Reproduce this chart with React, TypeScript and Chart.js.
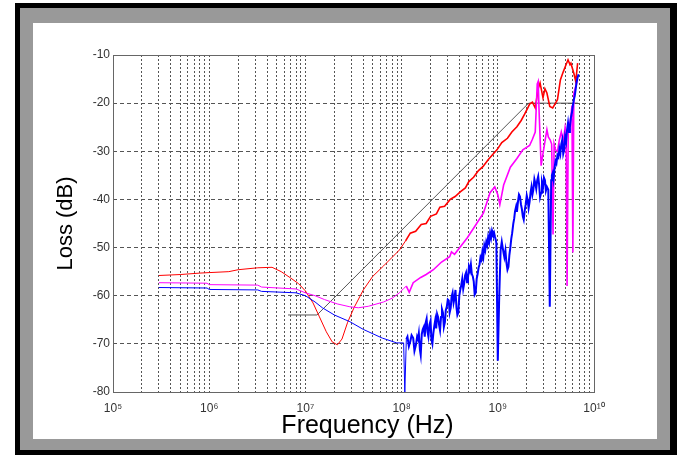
import React, { useEffect, useRef } from 'react';
import { Chart, registerables } from 'chart.js';

Chart.register(...registerables);

// ---- data (frequency in Hz, loss in dB) ----
const redFreq = [
  3e5, 5e5, 8e5, 1e6, 1.6e6, 2e6, 3.2e6, 4.5e6, 5.6e6, 7e6, 8.5e6, 1e7, 1.2e7, 1.4e7, 1.65e7, 1.9e7,
  2.15e7, 2.4e7, 2.75e7, 3.2e7, 4e7, 5e7, 6.5e7, 8e7, 9.5e7, 1.1e8, 1.23e8, 1.4e8, 1.6e8, 1.8e8, 2e8,
  2.3e8, 2.5e8, 2.8e8, 3.2e8, 3.6e8, 4.1e8, 4.6e8, 5e8, 5.6e8, 6.3e8, 7e8, 7.9e8, 8.9e8, 9.8e8, 1.1e9,
  1.26e9, 1.4e9, 1.58e9, 1.75e9, 1.9e9, 2.05e9, 2.14e9, 2.29e9, 2.45e9, 2.63e9, 2.75e9, 2.95e9, 3.09e9,
  3.24e9, 3.47e9, 3.72e9, 3.98e9, 4.17e9, 4.47e9, 4.79e9, 5.01e9, 5.37e9, 5.62e9, 5.75e9, 6.17e9,
  6.46e9, 6.76e9,
];
const redLoss = [
  -55.8, -55.6, -55.3, -55.2, -55.0, -54.6, -54.2, -54.1, -55.0, -56.3, -57.5, -59.0, -61.5, -64.4,
  -67.5, -69.6, -70.2, -69.0, -65.5, -62.5, -58.8, -56.0, -53.8, -52.0, -50.5, -48.6, -47.0, -46.6,
  -45.2, -45.0, -43.5, -43.0, -41.6, -41.4, -40.0, -39.4, -38.4, -37.6, -36.3, -35.4, -34.0, -33.2,
  -31.8, -30.6, -29.7, -28.2, -27.3, -26.0, -24.9, -23.6, -22.3, -21.0, -20.2, -19.8, -21.0, -17.0,
  -15.8, -18.9, -17.0, -17.9, -20.7, -21.0, -20.0, -19.3, -15.2, -13.5, -12.5, -11.0, -12.0, -11.7,
  -13.8, -15.5, -11.7,
];

const magentaFreq = [
  3e5, 9.5e5, 1e6, 3.2e6, 3.5e6, 8e6, 1e7, 1.26e7, 1.58e7, 2.14e7, 2.9e7, 3.55e7, 4.5e7, 6.5e7, 8e7,
  9.5e7, 1.05e8, 1.12e8, 1.2e8, 1.32e8, 1.58e8, 1.8e8, 2.14e8, 2.6e8, 3.16e8, 3.3e8, 3.55e8, 4.2e8,
  4.8e8, 5.6e8, 7.1e8, 8.3e8, 9.3e8, 1e9, 1.05e9, 1.15e9, 1.35e9, 1.58e9, 1.82e9, 2.14e9, 2.29e9,
  2.45e9, 2.57e9, 2.63e9, 2.69e9, 2.82e9, 2.95e9, 3.09e9, 3.24e9, 3.35e9, 3.5e9, 3.63e9, 3.75e9,
  3.85e9, 3.98e9, 4.17e9, 4.37e9, 4.57e9, 4.79e9, 5.01e9, 5.13e9, 5.25e9, 5.4e9, 5.62e9, 5.75e9,
  5.9e9, 6.03e9, 6.17e9, 6.46e9, 6.76e9,
];
const magentaLoss = [
  -57.3, -57.4, -57.7, -57.8, -58.2, -58.6, -59.4, -60.0, -60.8, -61.7, -62.3, -62.5, -62.2, -61.3,
  -60.5, -59.4, -58.5, -58.0, -59.3, -57.3, -56.2, -55.6, -54.6, -53.0, -51.9, -50.9, -51.4, -49.5,
  -48.0, -46.0, -42.8, -38.6, -37.4, -39.0, -41.1, -37.0, -33.3, -31.5, -29.7, -28.8, -27.5, -26.0,
  -16.0, -15.5, -22.0, -33.0, -30.5, -28.0, -25.5, -27.0, -27.6, -28.5, -47.3, -28.5, -29.7, -30.0,
  -27.6, -26.0, -28.0, -25.0, -26.5, -58.0, -25.0, -24.1, -22.9, -20.5, -51.0, -18.0, -16.5, -15.0,
];

const blueFreq = [
  3e5, 9.5e5, 1e6, 3.2e6, 3.5e6, 8e6, 1e7, 1.26e7, 1.5e7, 2e7, 2.9e7, 4e7, 6.3e7, 8.9e7, 1.05e8,
  1.08e8, 1.12e8,
  1.15e8, 1.19e8, 1.23e8, 1.27e8, 1.32e8, 1.36e8, 1.41e8, 1.45e8, 1.48e8, 1.51e8, 1.55e8, 1.58e8,
  1.62e8, 1.66e8, 1.7e8, 1.74e8, 1.78e8, 1.82e8, 1.86e8, 1.9e8, 1.95e8, 2e8, 2.04e8, 2.09e8,
  2.14e8, 2.19e8, 2.24e8, 2.29e8, 2.34e8, 2.4e8, 2.45e8, 2.51e8, 2.57e8, 2.63e8, 2.69e8, 2.75e8,
  2.82e8, 2.88e8, 2.95e8, 3.02e8, 3.09e8, 3.16e8, 3.24e8, 3.31e8, 3.39e8, 3.47e8, 3.55e8, 3.63e8,
  3.72e8, 3.8e8, 3.89e8, 3.98e8, 4.07e8, 4.17e8, 4.27e8, 4.37e8, 4.47e8, 4.57e8, 4.68e8, 4.79e8,
  4.9e8, 5.01e8, 5.13e8, 5.25e8, 5.37e8, 5.5e8, 5.62e8, 5.75e8, 5.89e8, 6.03e8, 6.17e8, 6.31e8,
  6.46e8, 6.61e8, 6.76e8, 6.92e8, 7.08e8, 7.24e8, 7.41e8, 7.59e8, 7.76e8, 7.94e8, 8.13e8, 8.32e8,
  8.51e8, 8.71e8, 8.91e8, 9.12e8, 9.33e8, 9.55e8, 9.66e8, 1e9, 1.035e9, 1.07e9, 1.1e9, 1.12e9,
  1.15e9, 1.17e9, 1.2e9, 1.23e9, 1.26e9, 1.29e9, 1.32e9, 1.35e9, 1.38e9, 1.41e9, 1.45e9, 1.48e9,
  1.51e9, 1.55e9, 1.58e9, 1.62e9, 1.66e9, 1.7e9, 1.74e9, 1.78e9, 1.82e9, 1.86e9, 1.9e9, 1.95e9,
  2e9, 2.04e9, 2.09e9, 2.14e9, 2.19e9, 2.24e9, 2.29e9, 2.34e9, 2.4e9, 2.45e9, 2.51e9, 2.57e9,
  2.63e9, 2.69e9, 2.75e9, 2.82e9, 2.88e9, 2.95e9, 3.02e9, 3.09e9, 3.16e9, 3.24e9, 3.35e9, 3.47e9,
  3.59e9, 3.65e9, 3.72e9, 3.8e9, 3.89e9, 3.98e9, 4.07e9, 4.17e9, 4.27e9, 4.37e9, 4.47e9, 4.57e9,
  4.68e9, 4.79e9, 4.9e9, 5.01e9, 5.13e9, 5.25e9, 5.37e9, 5.5e9, 5.62e9, 5.75e9, 5.89e9, 6.03e9,
  6.17e9, 6.31e9, 6.46e9, 6.61e9, 6.76e9, 6.92e9,
];
const blueLoss = [
  -58.3, -58.4, -58.7, -58.8, -59.1, -59.4, -60.0, -61.3, -62.5, -64.0, -65.4, -67.0, -68.8, -69.8,
  -69.8, -80.0, -69.0,
  -68.5, -70.5, -69.5, -68.2, -68.8, -71.5, -70.2, -68.5, -69.0, -67.8, -71.2, -72.3,
  -68.0, -67.0, -66.5, -68.5, -65.6, -64.8, -67.5, -68.5, -66.0, -65.2, -69.0, -70.0,
  -67.7, -66.2, -65.0, -66.8, -63.8, -64.5, -66.0, -67.2, -64.4, -62.8, -63.5, -66.5,
  -65.5, -63.0, -62.3, -60.8, -61.0, -63.5, -62.5, -60.2, -59.4, -61.5, -60.5, -58.8,
  -62.5, -64.0, -63.5, -60.0, -58.8, -57.8, -56.5, -58.6, -57.5, -55.8, -55.2, -57.2,
  -56.3, -54.0, -54.8, -53.5, -55.5, -56.0, -57.0, -59.8, -59.4, -56.5, -55.5, -54.2,
  -53.5, -52.0, -52.5, -50.8, -51.9, -49.6, -50.5, -48.8, -49.5, -47.8, -48.8, -47.0,
  -48.0, -46.5, -47.2, -46.8, -47.7, -48.5, -49.0, -73.5, -60.0, -50.5, -48.8, -49.8,
  -51.2, -52.0, -50.6, -53.2, -54.6, -54.0, -51.5, -50.0, -48.2, -47.0, -45.0, -44.0,
  -42.5, -41.5, -42.6, -40.5, -39.0, -39.4, -41.0, -42.0, -43.5, -44.2, -42.5, -41.0,
  -39.2, -40.0, -41.8, -40.5, -38.6, -37.4, -39.0, -38.0, -35.8, -36.6, -37.8, -36.0,
  -35.2, -37.0, -39.5, -38.6, -36.5, -37.5, -35.5, -36.0, -38.2, -37.4, -38.0, -62.3,
  -36.0, -35.0, -34.5, -35.8, -33.5, -32.0, -32.5, -30.8, -31.2, -29.5, -30.5, -28.5,
  -27.6, -30.5, -29.7, -27.0, -28.0, -25.5, -24.1, -26.0, -25.0, -23.0, -22.0, -20.5,
  -19.3, -18.5, -17.0, -15.5, -14.6, -14.0,
];

const limitFreq = [6.6e6, 1.32e7, 2.09e9, 6.8e9];
const limitLoss = [-64, -64, -20, -20];

const xDecades = [1e5, 1e6, 1e7, 1e8, 1e9, 1e10];
const xTickLabels = ['10\u2075', '10\u2076', '10\u2077', '10\u2078', '10\u2079', '10\u00B9\u2070'];
const yMin = -80;
const yMax = -10;
const yStep = 10;
const xTitle = 'Frequency (Hz)';
const yTitle = 'Loss (dB)';

const FONT = '"Liberation Sans", Arial, Helvetica, sans-serif';

function toPoints(f: number[], l: number[]) {
  return f.map((x, i) => ({ x, y: l[i] }));
}

const framePlugin = {
  id: 'plotFrame',
  afterDraw(chart: any) {
    const { ctx, chartArea: a } = chart;
    ctx.save();
    ctx.setLineDash([]);
    ctx.strokeStyle = '#666';
    ctx.lineWidth = 1;
    ctx.strokeRect(a.left + 0.5, a.top + 0.5, a.right - a.left, a.bottom - a.top);
    ctx.fillStyle = '#000';
    ctx.font = '25px ' + FONT;
    ctx.textAlign = 'center';
    ctx.textBaseline = 'alphabetic';
    ctx.fillText(xTitle, (a.left + a.right) / 2 + 14, a.bottom + 41);
    ctx.restore();
  },
};

// thicker strokes where the measured traces become noisy (above ~100 MHz)
const noisyWidth = (thin: number, thick: number) => (ctx: any) =>
  ctx.p0 && ctx.p0.parsed.x >= 1.1e8 ? thick : thin;

export default function App() {
  const canvasRef = useRef<HTMLCanvasElement | null>(null);

  useEffect(() => {
    if (!canvasRef.current) return;
    const minorTicks: { value: number }[] = [];
    for (let d = 0; d < xDecades.length; d++) {
      const base = xDecades[d];
      const last = d === xDecades.length - 1 ? 1 : 9;
      for (let m = 1; m <= last; m++) minorTicks.push({ value: base * m });
    }

    const chart = new Chart(canvasRef.current, {
      type: 'line',
      data: {
        datasets: [
          {
            label: 'blue',
            data: toPoints(blueFreq, blueLoss),
            borderColor: '#0000ff',
            borderWidth: 1,
            segment: { borderWidth: noisyWidth(1, 2) },
            pointRadius: 0,
            tension: 0,
          },
          {
            label: 'magenta',
            data: toPoints(magentaFreq, magentaLoss),
            borderColor: '#ff00ff',
            borderWidth: 1,
            segment: { borderWidth: noisyWidth(1, 1.6) },
            pointRadius: 0,
            tension: 0,
          },
          {
            label: 'red',
            data: toPoints(redFreq, redLoss),
            borderColor: '#ff0000',
            borderWidth: 1,
            segment: { borderWidth: noisyWidth(1, 1.6) },
            pointRadius: 0,
            tension: 0,
          },
          {
            label: 'limit',
            data: toPoints(limitFreq, limitLoss),
            borderColor: '#555',
            borderWidth: 1,
            pointRadius: 0,
            tension: 0,
          },
        ],
      },
      options: {
        animation: false,
        responsive: false,
        events: [],
        layout: { padding: { left: 20, top: 32, right: 63, bottom: 17 } },
        plugins: { legend: { display: false }, tooltip: { enabled: false } },
        scales: {
          x: {
            type: 'logarithmic',
            min: 1e5,
            max: 1e10,
            afterBuildTicks: (scale: any) => {
              scale.ticks = minorTicks.map((t) => ({ value: t.value }));
            },
            afterFit: (scale: any) => {
              scale.height = 30;
            },
            ticks: {
              autoSkip: false,
              maxRotation: 0,
              padding: 9,
              color: '#333',
              font: { family: FONT, size: 12 },
              callback: (value: any) => {
                const idx = xDecades.findIndex((d) => Math.abs(d - Number(value)) / d < 1e-6);
                return idx >= 0 ? xTickLabels[idx] : '';
              },
            },
            grid: { color: '#555', lineWidth: 1, drawTicks: false },
            border: { display: false, dash: [2, 2] },
          },
          y: {
            type: 'linear',
            min: yMin,
            max: yMax,
            afterFit: (scale: any) => {
              scale.width = 60;
            },
            ticks: {
              stepSize: yStep,
              padding: 3,
              color: '#333',
              font: { family: FONT, size: 12 },
            },
            grid: { color: '#555', lineWidth: 1, drawTicks: false },
            border: { display: false, dash: [4, 3] },
            title: {
              display: true,
              text: yTitle,
              color: '#000',
              padding: 0,
              font: { family: FONT, size: 22 },
            },
          },
        },
      },
      plugins: [framePlugin],
    } as any);

    return () => chart.destroy();
  }, []);

  return (
    <div style={{ position: 'absolute', left: 15, top: 3, width: 662, height: 452, background: '#000' }}>
      <div style={{ position: 'absolute', left: 5, top: 5, width: 650, height: 442, background: '#999' }} />
      <div style={{ position: 'absolute', left: 18, top: 20, width: 624, height: 416, background: '#fff' }}>
        <canvas ref={canvasRef} width={624} height={416} style={{ display: 'block' }} />
      </div>
    </div>
  );
}
